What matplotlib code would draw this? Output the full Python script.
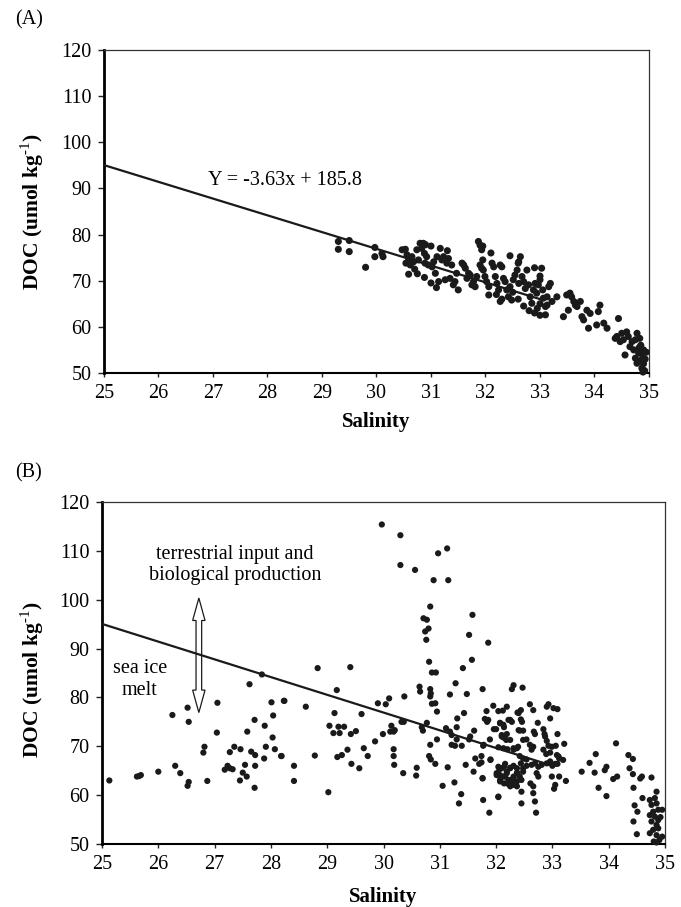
import matplotlib
matplotlib.use("Agg")
import matplotlib.pyplot as plt
import numpy as np
from matplotlib.patches import Polygon

plt.rcParams["font.family"] = "Liberation Serif"
plt.rcParams["mathtext.fontset"] = "custom"
plt.rcParams["mathtext.rm"] = "Liberation Serif"
plt.rcParams["mathtext.bf"] = "Liberation Serif:bold"

# regression line shown in both panels
SLOPE = -3.63
INTERCEPT = 185.8
LINE_RANGE = [25.0, 33.0]

# panel A: (salinity, DOC)
POINTS_A = [
    (29.30, 78.5), (29.30, 76.8), (29.50, 78.7), (29.50, 76.3), (29.80, 72.9),
    (29.97, 77.2), (29.97, 75.2), (30.10, 75.9), (30.12, 75.2),
    (30.47, 76.7), (30.53, 76.8), (30.56, 75.6), (30.59, 74.5), (30.54, 73.8),
    (30.62, 73.4), (30.59, 71.4), (30.65, 75.2), (30.68, 74.1), (30.74, 76.7),
    (30.77, 74.5), (30.80, 78.1), (30.83, 77.0), (30.86, 78.1), (30.88, 75.9),
    (30.89, 73.8), (30.88, 70.7), (30.92, 75.2), (30.95, 73.4), (31.02, 73.0),
    (31.05, 74.1), (31.08, 71.6), (31.11, 75.2), (31.14, 69.8), (31.17, 77.0),
    (31.20, 74.5), (31.23, 75.2), (31.26, 70.2), (31.29, 73.8), (31.32, 74.8),
    (31.35, 70.5), (31.38, 73.4), (31.41, 69.1), (31.44, 69.8), (31.47, 71.6),
    (31.57, 73.8), (31.60, 73.4), (31.63, 72.7), (31.66, 70.5), (31.69, 71.6),
    (31.72, 71.2), (31.75, 69.1), (31.78, 69.8), (31.81, 68.7), (31.84, 70.9),
    (31.87, 78.5), (31.90, 77.7), (31.93, 76.7), (31.95, 74.5), (31.90, 73.4),
    (31.93, 72.7), (31.96, 72.3), (31.99, 70.9), (32.02, 69.8), (32.06, 66.9),
    (32.06, 68.7), (32.12, 73.8), (32.15, 73.0), (32.18, 70.9), (32.21, 69.4),
    (32.24, 68.0), (32.27, 65.5), (32.27, 73.4), (32.30, 73.0), (32.33, 70.5),
    (32.36, 69.8), (32.39, 68.0), (32.42, 66.5), (32.45, 68.7), (32.48, 65.8),
    (32.51, 70.2), (32.54, 71.2), (32.58, 72.3), (32.61, 74.1), (32.64, 75.2),
    (32.61, 69.4), (32.67, 70.9), (32.70, 69.8), (32.73, 68.3), (32.76, 72.3),
    (32.79, 69.1), (32.82, 66.5), (32.85, 65.1), (32.88, 68.0), (32.91, 69.4),
    (32.94, 67.3), (32.97, 69.1), (33.00, 70.2), (33.03, 72.7), (33.05, 68.0),
    (33.06, 66.2), (33.10, 64.4), (33.10, 62.6), (33.13, 66.5), (33.16, 68.7),
    (33.19, 69.4), (33.22, 65.5), (33.13, 64.7), (33.31, 66.5), (33.43, 62.2),
    (33.49, 66.9), (33.52, 63.6), (33.55, 67.3), (33.58, 66.5), (33.62, 65.5),
    (33.65, 64.7), (33.68, 64.4), (33.74, 65.5), (33.77, 62.2), (33.80, 61.5),
    (33.86, 63.6), (33.89, 59.7), (33.92, 62.9), (34.04, 60.4), (34.07, 63.3),
    (34.10, 64.7), (34.17, 60.8), (34.23, 59.7), (34.38, 57.5), (34.41, 57.9),
    (34.44, 61.8), (34.47, 56.8), (34.50, 58.6), (34.53, 57.2), (34.56, 53.9),
    (34.59, 58.9), (34.62, 57.9), (34.65, 55.7), (34.69, 56.8), (34.72, 55.0),
    (34.75, 57.2), (34.78, 58.6), (34.75, 53.2), (34.78, 52.1), (34.81, 54.3),
    (34.85, 56.0), (34.88, 54.0), (34.90, 52.0), (34.92, 50.5), (34.87, 51.0),
    (34.83, 57.5), (34.90, 55.0), (34.93, 53.0), (34.86, 52.8), (34.95, 54.5),
    (34.82, 55.5), (34.89, 50.2),
    (32.90, 63.0), (33.00, 62.5), (32.95, 64.0), (33.00, 65.0), (32.80, 63.5),
    (32.70, 64.5), (32.60, 66.0), (32.50, 67.5), (32.30, 66.0), (32.20, 67.0),
    (31.50, 68.0), (31.00, 69.5), (31.10, 68.5), (30.75, 71.5), (30.70, 72.5),
    (32.45, 75.4), (32.60, 73.8), (32.90, 72.8), (33.00, 71.0), (32.10, 76.0),
    (31.95, 77.5), (31.30, 76.5), (31.00, 77.5), (30.90, 77.8),
]

# panel B: (salinity, DOC)
POINTS_B = [
    (29.97, 115.4), (30.30, 113.2), (30.97, 109.5), (31.13, 110.5), (30.30, 107.1),
    (30.56, 106.1), (30.89, 104.0), (31.15, 104.0), (30.83, 98.6), (30.71, 96.2),
    (30.77, 95.9), (30.80, 94.1), (30.74, 93.5), (30.76, 91.8), (31.58, 96.9),
    (31.52, 92.8), (31.86, 91.2), (30.81, 87.3), (31.57, 87.7), (31.41, 86.0),
    (30.86, 85.1), (30.93, 85.1), (28.83, 86.0), (29.41, 86.2),
    (28.23, 79.3), (28.62, 78.1), (29.17, 81.5), (29.13, 76.8), (29.04, 74.2),
    (29.20, 74.0), (29.30, 74.0), (29.11, 72.7), (29.22, 72.7), (29.42, 72.5),
    (29.51, 73.1), (29.61, 76.6), (29.90, 78.8), (30.04, 78.6), (30.10, 79.8),
    (30.37, 80.2), (30.64, 82.2), (30.65, 81.2), (30.83, 81.7), (30.84, 80.8),
    (30.83, 80.2), (30.86, 78.7), (30.92, 78.8), (30.95, 77.1), (30.32, 75.0),
    (30.36, 75.0), (30.14, 74.2), (30.20, 73.3), (30.12, 73.0), (30.18, 73.0),
    (29.99, 72.5), (29.85, 71.0), (29.65, 69.6), (29.72, 68.0), (30.18, 69.4),
    (30.18, 68.0), (30.19, 66.2), (29.36, 69.3), (29.18, 67.8), (29.26, 68.2),
    (29.43, 66.4), (29.57, 65.5), (28.78, 68.1), (28.19, 68.0), (28.41, 66.0),
    (28.41, 62.9), (29.02, 60.6), (30.35, 64.5), (30.59, 65.6), (30.58, 64.0),
    (30.68, 73.9), (30.70, 73.2), (30.77, 74.8), (30.83, 70.3), (30.81, 68.0),
    (30.84, 67.3), (30.92, 66.4), (30.95, 71.4), (31.05, 61.9), (31.11, 73.7),
    (31.18, 73.0), (31.14, 65.7), (31.21, 70.3), (31.27, 70.1), (31.39, 70.1),
    (31.21, 72.3), (31.30, 71.4), (31.30, 73.9), (31.31, 75.7), (31.26, 62.6),
    (31.38, 60.2), (31.34, 58.3), (31.18, 80.6), (31.28, 82.9), (31.48, 80.7),
    (31.43, 76.8), (31.54, 72.0), (31.52, 71.4), (31.61, 73.2), (31.63, 67.5),
    (31.70, 66.4), (31.74, 68.0), (31.60, 64.8), (31.46, 66.2), (31.76, 81.7),
    (31.76, 63.5), (31.77, 59.0), (31.88, 56.4), (31.90, 67.3), (31.89, 71.4),
    (31.78, 70.3), (31.83, 77.2), (31.86, 75.4), (32.00, 73.5), (31.95, 78.3),
    (32.04, 77.2), (32.12, 77.3), (32.19, 78.1), (32.28, 81.7), (32.31, 82.5),
    (32.47, 82.0), (32.04, 65.8), (32.10, 65.5), (32.16, 66.4), (32.04, 59.6),
    (32.01, 64.5), (32.07, 64.1), (32.13, 63.8), (32.19, 64.5), (32.07, 62.8),
    (32.14, 62.4), (32.22, 63.1), (32.25, 62.1), (32.07, 74.7), (32.14, 73.9),
    (32.19, 72.5), (32.25, 71.3), (32.10, 72.0), (32.13, 69.6), (32.25, 75.4),
    (32.31, 69.3), (32.37, 69.6), (32.40, 76.8), (32.40, 73.3), (32.25, 65.5),
    (32.31, 63.8), (32.38, 64.5), (32.31, 62.4), (32.37, 61.8),
    (32.38, 76.9), (32.44, 77.4), (32.60, 78.6), (32.66, 77.4), (32.90, 78.1),
    (32.93, 78.6), (33.02, 77.8), (33.09, 77.6), (31.80, 75.6), (31.84, 75.0),
    (32.07, 74.8), (32.13, 74.4), (32.22, 75.4), (32.28, 75.0), (32.44, 75.5),
    (32.46, 75.0), (32.74, 74.8), (32.96, 75.7), (31.96, 73.5), (32.10, 72.3),
    (32.13, 71.8), (32.18, 71.3), (32.42, 73.2), (32.48, 73.2), (32.67, 73.0),
    (32.69, 72.5), (32.84, 73.5), (32.86, 72.5), (33.09, 72.5), (31.77, 70.1),
    (32.04, 69.8), (32.20, 69.4), (32.31, 69.6), (32.39, 69.9), (32.48, 71.3),
    (32.54, 71.4), (32.60, 70.3), (32.66, 69.9), (32.63, 69.3), (32.87, 72.0),
    (32.90, 71.1), (32.93, 70.1), (32.99, 69.9), (33.06, 70.1), (33.21, 70.5),
    (32.84, 69.3), (32.89, 68.4), (32.96, 68.7), (33.08, 68.2), (33.12, 67.5),
    (33.09, 66.4), (33.19, 67.2), (32.42, 68.0), (32.48, 67.5), (32.54, 67.3),
    (31.74, 66.7), (31.90, 67.2), (32.14, 65.8), (32.06, 65.3), (32.19, 64.8),
    (32.25, 65.6), (32.31, 66.0), (32.37, 65.5), (32.44, 66.5), (32.48, 65.5),
    (32.54, 66.0), (32.63, 66.2), (32.69, 66.5), (32.75, 65.8), (32.81, 66.2),
    (32.90, 66.5), (32.96, 66.9), (33.00, 66.0), (33.05, 66.4), (33.11, 67.9),
    (32.01, 64.1), (32.07, 63.1), (32.16, 63.8), (32.25, 63.1), (32.31, 63.5),
    (32.37, 64.6), (32.42, 63.8), (32.48, 64.8), (32.19, 62.4), (32.25, 61.8),
    (32.31, 62.1), (32.37, 62.8), (32.45, 63.1), (32.61, 62.4), (32.66, 61.8),
    (32.75, 63.8), (32.72, 64.5), (32.99, 63.8), (33.12, 63.8), (33.24, 62.9),
    (33.05, 62.1), (33.03, 61.3), (31.76, 63.4), (32.04, 59.7), (32.45, 60.7),
    (32.45, 58.3), (32.66, 60.4), (32.69, 58.7), (32.71, 56.4),
    (33.52, 64.8), (33.66, 66.6), (33.77, 68.4), (33.75, 64.6), (33.93, 65.1),
    (33.96, 65.8), (33.82, 61.5), (33.96, 59.8), (34.08, 63.3), (34.15, 63.8),
    (34.13, 70.6), (34.35, 68.2), (34.43, 67.4), (34.37, 65.5), (34.43, 64.3),
    (34.44, 61.5), (34.56, 63.4), (34.59, 63.8), (34.76, 63.6), (34.60, 59.4),
    (34.46, 57.9), (34.51, 56.6), (34.44, 54.6), (34.73, 59.0), (34.85, 60.7),
    (34.82, 59.4), (34.76, 58.0), (34.85, 58.3), (34.79, 56.6), (34.88, 57.0),
    (34.73, 55.9), (34.82, 55.6), (34.88, 54.9), (34.76, 54.6), (34.85, 53.9),
    (34.79, 52.9), (34.88, 53.2), (34.73, 52.2), (34.85, 51.8), (34.80, 50.5),
    (34.90, 50.8), (34.85, 50.3), (34.95, 51.5), (34.92, 55.5), (34.95, 57.0),
    (34.50, 52.0),
    (25.13, 63.0), (25.62, 63.8), (25.66, 63.9), (25.69, 64.1), (26.00, 64.8),
    (26.25, 76.4), (26.30, 66.0), (26.39, 64.5), (26.52, 77.9), (26.54, 75.0),
    (26.52, 61.9), (26.54, 62.7), (26.82, 69.9), (26.80, 68.7), (26.87, 62.9),
    (27.04, 72.8), (27.05, 78.9), (27.18, 65.2), (27.23, 66.0), (27.27, 65.5),
    (27.32, 65.3), (27.27, 68.8), (27.35, 69.9), (27.46, 69.4), (27.45, 63.0),
    (27.50, 64.6), (27.54, 66.2), (27.57, 63.8), (27.58, 73.0), (27.62, 82.7),
    (27.65, 68.9), (27.72, 68.2), (27.72, 66.0), (27.71, 75.4), (27.71, 61.5),
    (27.84, 84.7), (27.89, 74.2), (27.91, 69.9), (28.01, 79.0), (28.03, 71.8),
    (28.04, 76.3), (28.07, 69.4), (27.88, 67.5), (28.18, 68.0), (28.24, 79.3),
]

X_TICKS = list(range(25, 36))
Y_TICKS = list(range(50, 121, 10))
Y_LABEL = r"DOC (umol kg$^{\text{-1}}$)"


def style_axis(ax, label_x, label_y, label_y_pos):
    ax.set_xlim(25, 35)
    ax.set_ylim(50, 120)
    ax.set_xticks(X_TICKS)
    ax.set_yticks(Y_TICKS)
    ax.tick_params(axis="both", labelsize=14.5, direction="out", color="#222222")
    ax.tick_params(axis="x", length=3, width=1.0, pad=5)
    ax.tick_params(axis="y", length=4, width=1.0, pad=5)
    ax.spines["left"].set_linewidth(2.0)
    ax.spines["bottom"].set_linewidth(1.5)
    for side in ("top", "right"):
        ax.spines[side].set_linewidth(0.9)
        ax.spines[side].set_color("#333333")
    ax.set_xlabel("Salinity", fontsize=15, fontweight="bold")
    ax.set_ylabel(Y_LABEL, fontsize=15.5, fontweight="bold")
    ax.xaxis.set_label_coords(0.5, label_x)
    ax.xaxis.label.set_va("center")
    ax.yaxis.set_label_coords(label_y, label_y_pos)
    ax.yaxis.label.set_va("center")


fig = plt.figure(figsize=(6.81, 9.07), dpi=100)
fig.patch.set_facecolor("white")

ax_a = fig.add_axes([0.1527, 0.5888, 0.8003, 0.3561])
ax_b = fig.add_axes([0.1498, 0.0695, 0.8267, 0.3770])

line_x = np.array(LINE_RANGE)
line_y = SLOPE * line_x + INTERCEPT

# panel A
pa = np.array(POINTS_A).T
ax_a.scatter(pa[0], pa[1], s=26, color="#1a1a1a", edgecolors="none", zorder=3, clip_on=False)
ax_a.plot(line_x, line_y, color="#1a1a1a", linewidth=1.6, zorder=4)
ax_a.text(26.9, 91.8, "Y = -3.63x + 185.8", fontsize=14.5, ha="left", va="center")
style_axis(ax_a, -0.152, -0.132, 0.5)

# panel B
pb = np.array(POINTS_B).T
ax_b.scatter(pb[0], pb[1], s=20, color="#1a1a1a", edgecolors="none", zorder=3, clip_on=False)
ax_b.plot(line_x, line_y, color="#1a1a1a", linewidth=1.6, zorder=4)

# hollow double-headed arrow
xc, top, bot = 26.72, 100.35, 76.9
hw, sw, hl = 0.11, 0.05, 4.6
arrow = Polygon(
    [
        (xc, top), (xc + hw, top - hl), (xc + sw, top - hl), (xc + sw, bot + hl),
        (xc + hw, bot + hl), (xc, bot), (xc - hw, bot + hl), (xc - sw, bot + hl),
        (xc - sw, top - hl), (xc - hw, top - hl),
    ],
    closed=True, facecolor="white", edgecolor="#1a1a1a", linewidth=0.9, zorder=2,
)
ax_b.add_patch(arrow)
ax_b.text(27.36, 107.1, "terrestrial input and\nbiological production",
          fontsize=14.5, ha="center", va="center", linespacing=1.1)
ax_b.text(25.67, 83.6, "sea ice\nmelt", fontsize=14.5, ha="center", va="center",
          linespacing=1.2)
style_axis(ax_b, -0.155, -0.124, 0.48)

fig.text(0.022, 0.978, "(A)", fontsize=14.5, ha="left", va="center")
fig.text(0.022, 0.4785, "(B)", fontsize=14.5, ha="left", va="center")

fig.savefig("out.png", dpi=100, facecolor="white")
